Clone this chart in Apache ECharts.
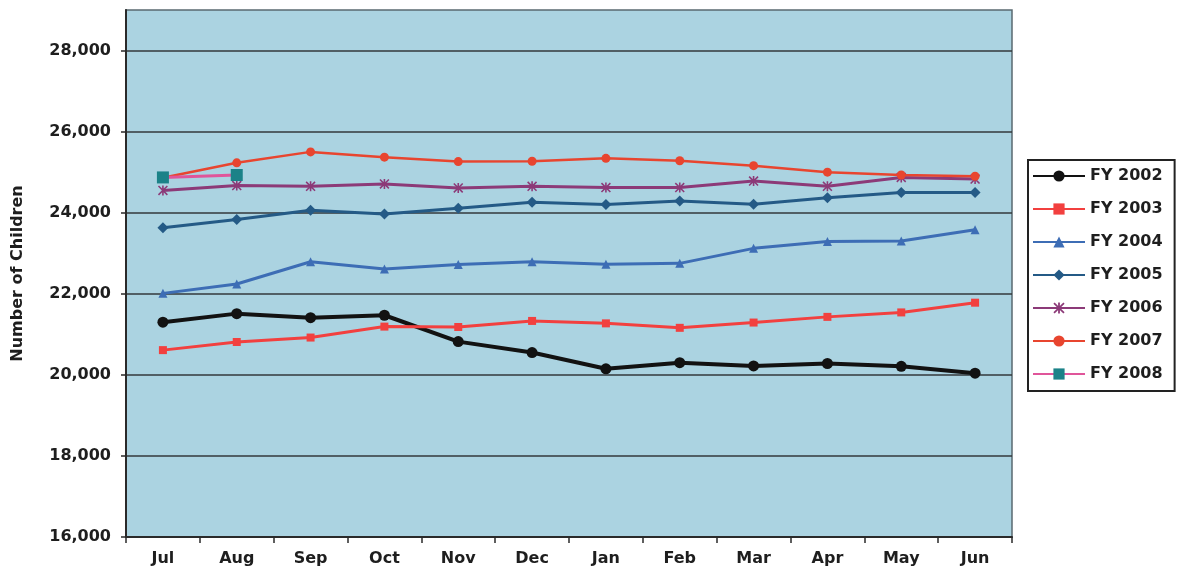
<!DOCTYPE html>
<html>
<head>
<meta charset="utf-8">
<script src="https://cdn.jsdelivr.net/npm/echarts@6/dist/echarts.min.js"></script>
<style>
  html, body { margin: 0; padding: 0; background: #ffffff; }
  #chart { width: 1179px; height: 586px; }
</style>
</head>
<body>
<div id="chart"></div>
<script>
// Monthly enrollment, fiscal year runs July to June
const months = ['Jul', 'Aug', 'Sep', 'Oct', 'Nov', 'Dec', 'Jan', 'Feb', 'Mar', 'Apr', 'May', 'Jun'];
const fy2002 = [21300, 21510, 21410, 21470, 20820, 20550, 20150, 20300, 20220, 20280, 20210, 20040];
const fy2003 = [20610, 20810, 20920, 21190, 21180, 21330, 21270, 21160, 21290, 21430, 21540, 21780];
const fy2004 = [22010, 22240, 22790, 22610, 22720, 22790, 22730, 22750, 23120, 23290, 23300, 23580];
const fy2005 = [23630, 23830, 24060, 23970, 24110, 24260, 24200, 24290, 24210, 24370, 24500, 24500];
const fy2006 = [24550, 24670, 24650, 24710, 24610, 24650, 24620, 24620, 24780, 24650, 24870, 24830];
const fy2007 = [24860, 25230, 25500, 25370, 25260, 25270, 25340, 25280, 25160, 25000, 24930, 24900];
const fy2008 = [24870, 24930, null, null, null, null, null, null, null, null, null, null];

const yMin = 16000, yMax = 29000, yStep = 2000;
const axisTitle = 'Number of Children';

// asterisk-style marker
const asterisk = 'path://M4.2,0 L5.8,0 L5.8,10 L4.2,10 Z M0,1.1 L1.1,0 L10,8.9 L8.9,10 Z M8.9,0 L10,1.1 L1.1,10 L0,8.9 Z';

function line(name, data, color, width, symbol, size, markerColor) {
  return {
    name: name,
    type: 'line',
    data: data,
    symbol: symbol,
    symbolSize: size,
    showAllSymbol: true,
    connectNulls: false,
    lineStyle: { color: color, width: width },
    itemStyle: { color: markerColor || color, borderColor: markerColor || color, borderWidth: 0 },
    emphasis: { disabled: true },
    animation: false
  };
}

const chart = echarts.init(document.getElementById('chart'), null, { renderer: 'canvas' });

const labelFont = { fontFamily: 'DejaVu Sans', fontWeight: 'bold', color: '#1e1e1e' };

chart.setOption({
  backgroundColor: '#ffffff',
  animation: false,
  grid: {
    left: 126, right: 1179 - 1012, top: 10, bottom: 586 - 537,
    show: true,
    backgroundColor: '#abd3e1',
    borderColor: '#5a6a70',
    borderWidth: 1.5,
    containLabel: false
  },
  legend: {
    orient: 'vertical',
    left: 1028,
    top: 160,
    padding: [8, 12, 9, 4],
    itemWidth: 52,
    itemHeight: 14,
    itemGap: 17,
    borderColor: '#222',
    borderWidth: 2,
    backgroundColor: '#ffffff',
    textStyle: Object.assign({ fontSize: 16, lineHeight: 14 }, labelFont),
    data: ['FY 2002', 'FY 2003', 'FY 2004', 'FY 2005', 'FY 2006', 'FY 2007', 'FY 2008']
  },
  xAxis: {
    type: 'category',
    data: months,
    boundaryGap: true,
    axisLine: { show: true, lineStyle: { color: '#2a2a2a', width: 2 } },
    axisTick: { show: true, length: 6, lineStyle: { color: '#2a2a2a', width: 1.5 } },
    axisLabel: Object.assign({ fontSize: 16, margin: 14 }, labelFont),
    splitLine: { show: false }
  },
  yAxis: {
    type: 'value',
    min: yMin,
    max: yMax,
    interval: yStep,
    name: axisTitle,
    nameLocation: 'middle',
    nameGap: 100,
    nameRotate: 90,
    nameTextStyle: { fontFamily: 'DejaVu Sans', fontWeight: 'bold', fontSize: 16, color: '#1e1e1e' },
    axisLine: { show: true, lineStyle: { color: '#2a2a2a', width: 2 } },
    axisTick: { show: true, length: 5, lineStyle: { color: '#2a2a2a', width: 1.5 } },
    axisLabel: Object.assign({
      fontSize: 16,
      margin: 15,
      showMaxLabel: false,
      formatter: function (v) { return v.toLocaleString('en-US'); }
    }, labelFont),
    splitLine: { show: true, showMaxLine: false, lineStyle: { color: '#33393b', width: 1.6 } }
  },
  series: [
    line('FY 2002', fy2002, '#121212', 4, 'circle', 11),
    line('FY 2003', fy2003, '#f2403f', 3, 'rect', 8),
    line('FY 2004', fy2004, '#3d6db5', 3, 'triangle', 9),
    line('FY 2005', fy2005, '#245a86', 3, 'diamond', 11),
    line('FY 2006', fy2006, '#8c3a78', 3, asterisk, 10),
    line('FY 2007', fy2007, '#e8452f', 2.5, 'circle', 9),
    line('FY 2008', fy2008, '#e0559a', 3, 'rect', 12, '#1b8288')
  ]
});
</script>
</body>
</html>
